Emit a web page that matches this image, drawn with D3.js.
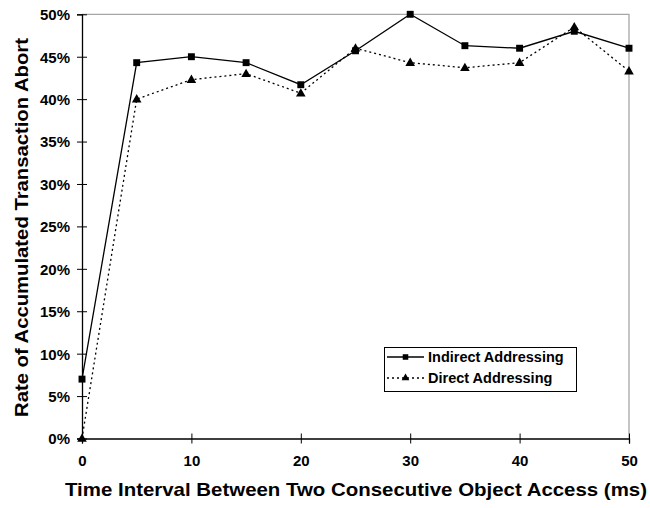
<!DOCTYPE html>
<html>
<head>
<meta charset="utf-8">
<script src="https://cdn.jsdelivr.net/npm/d3@7"></script>
<style>
  html, body { margin: 0; padding: 0; background: #fff; }
  svg { display: block; font-family: Arial, "Liberation Sans", sans-serif; font-weight: bold; }
</style>
</head>
<body>
<svg id="chart" width="650" height="508"></svg>
<script>
// Time interval between two consecutive object accesses (ms)
const intervals = [0, 5, 10, 15, 20, 25, 30, 35, 40, 45, 50];
// Rate of accumulated transaction abort (%)
const indirectAddressing = [7.0, 44.3, 45.0, 44.3, 41.7, 45.7, 50.0, 46.3, 46.0, 48.0, 46.0];
const directAddressing   = [0.0, 40.0, 42.3, 43.0, 40.7, 46.0, 44.3, 43.7, 44.3, 48.5, 43.3];
const xTicks = [0, 10, 20, 30, 40, 50];
const yTicks = [0, 5, 10, 15, 20, 25, 30, 35, 40, 45, 50];
const seriesNames = ["Indirect Addressing", "Direct Addressing"];

const svg = d3.select("#chart");
const plotLeft = 82, plotRight = 629, plotTop = 14.3, plotBottom = 438.5;

const x = d3.scaleLinear().domain([0, 50]).range([plotLeft, plotRight]);
const y = d3.scaleLinear().domain([0, 50]).range([plotBottom, plotTop]);

// plot frame: grey top and right edges
svg.append("path")
  .attr("d", `M${plotLeft},${plotTop}H${plotRight}V${plotBottom}`)
  .attr("fill", "none").attr("stroke", "#a6a6a6").attr("stroke-width", 1.3);

// y axis
const yAxis = svg.append("g").attr("transform", `translate(${plotLeft},0)`)
  .call(d3.axisLeft(y).tickValues(yTicks).tickSize(5).tickPadding(7)
    .tickFormat(d => d + "%"));
yAxis.selectAll(".tick line").attr("x1", 5);
// x axis
const xAxis = svg.append("g").attr("transform", `translate(0,${plotBottom})`)
  .call(d3.axisBottom(x).tickValues(xTicks).tickSize(5).tickPadding(12));
xAxis.selectAll(".tick line").attr("y1", -5);

[yAxis, xAxis].forEach(g => {
  g.select(".domain").attr("stroke", "#000").attr("stroke-width", 1.3);
  g.selectAll(".tick line").attr("stroke", "#000").attr("stroke-width", 1);
  g.selectAll("text").attr("font-family", "Arial, 'Liberation Sans', sans-serif")
    .attr("font-weight", "bold").attr("font-size", 15).attr("fill", "#000");
});
yAxis.selectAll("text").attr("dy", "0.36em");

// axis titles
svg.append("text")
  .attr("x", 356).attr("y", 496)
  .attr("text-anchor", "middle").attr("font-size", 19)
  .attr("textLength", 582).attr("lengthAdjust", "spacingAndGlyphs")
  .text("Time Interval Between Two Consecutive Object Access (ms)");
svg.append("text")
  .attr("transform", `translate(28,227.5) rotate(-90)`)
  .attr("text-anchor", "middle").attr("font-size", 19)
  .attr("textLength", 379).attr("lengthAdjust", "spacingAndGlyphs")
  .text("Rate of Accumulated Transaction Abort");

const line = d3.line().x(d => x(d[0])).y(d => y(d[1]));
const sq = d3.symbol().type(d3.symbolSquare).size(48);
const tri = d3.symbol().type(d3.symbolTriangle).size(40);

const indirectPts = intervals.map((t, i) => [t, indirectAddressing[i]]);
const directPts = intervals.map((t, i) => [t, directAddressing[i]]);

// direct addressing: dotted line, triangles
svg.append("path").datum(directPts).attr("d", line)
  .attr("fill", "none").attr("stroke", "#000").attr("stroke-width", 1.3)
  .attr("stroke-dasharray", "2,3");
// indirect addressing: solid line, squares
svg.append("path").datum(indirectPts).attr("d", line)
  .attr("fill", "none").attr("stroke", "#000").attr("stroke-width", 1.3);

svg.selectAll(".sq").data(indirectPts).join("path").attr("class", "sq")
  .attr("d", sq).attr("transform", d => `translate(${x(d[0])},${y(d[1])})`).attr("fill", "#000");
svg.selectAll(".tri").data(directPts).join("path").attr("class", "tri")
  .attr("d", tri).attr("transform", d => `translate(${x(d[0])},${y(d[1]) + 0.5})`).attr("fill", "#000");

// legend
const lg = svg.append("g");
lg.append("rect").attr("x", 384.5).attr("y", 347.5).attr("width", 192).attr("height", 44)
  .attr("fill", "#fff").attr("stroke", "#000").attr("stroke-width", 1);
const rows = [
  { name: seriesNames[0], dash: null, sym: sq, cy: 357 },
  { name: seriesNames[1], dash: "2,3", sym: tri, cy: 378 }
];
rows.forEach(r => {
  lg.append("line").attr("x1", 387).attr("x2", 424).attr("y1", r.cy).attr("y2", r.cy)
    .attr("stroke", "#000").attr("stroke-width", 1.3).attr("stroke-dasharray", r.dash);
  lg.append("path").attr("d", r.sym).attr("fill", "#000")
    .attr("transform", `translate(405.5,${r.cy}) scale(0.8)`);
  lg.append("text").attr("x", 428).attr("y", r.cy).attr("dy", "0.36em")
    .attr("font-size", 14.5).text(r.name);
});
</script>
</body>
</html>
